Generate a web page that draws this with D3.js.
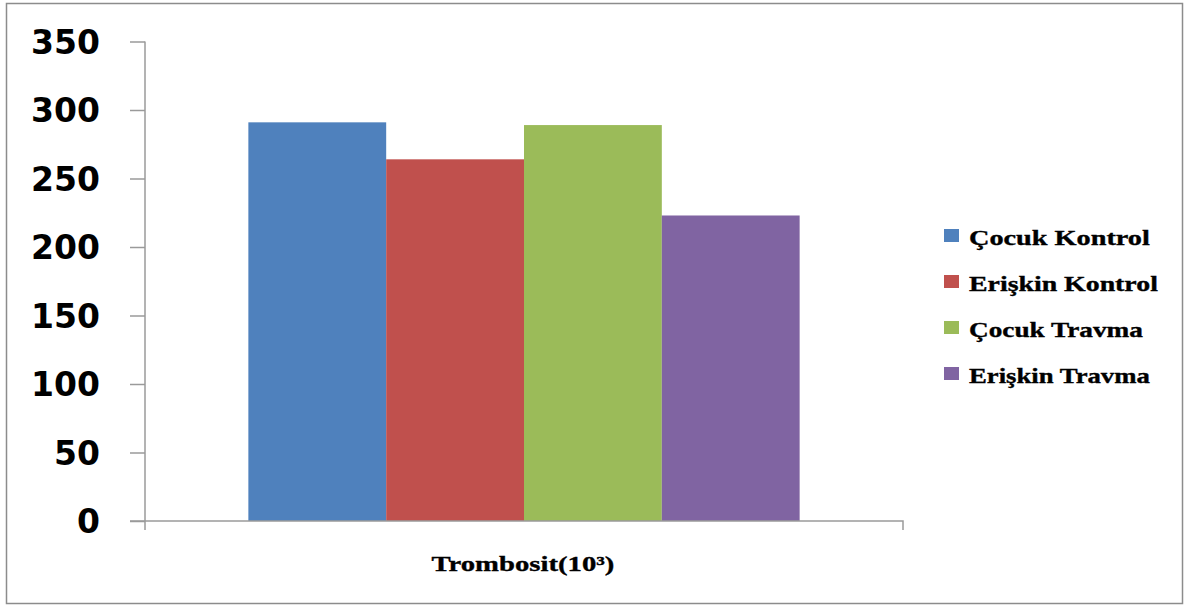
<!DOCTYPE html>
<html>
<head>
<meta charset="utf-8">
<script src="https://cdn.jsdelivr.net/npm/d3@7"></script>
<style>
  html, body { margin: 0; padding: 0; background: #fff; }
  svg { display: block; }
</style>
</head>
<body>
<svg id="chart" width="1186" height="606"></svg>
<script>
// Platelet counts (10^3) by group
const categories = ["Trombosit(10³)"];
const seriesNames = ["Çocuk Kontrol", "Erişkin Kontrol", "Çocuk Travma", "Erişkin Travma"];
const seriesValues = [291, 264, 289, 223];
const seriesColors = ["#4F81BD", "#C0504D", "#9BBB59", "#8064A2"];
const yTicks = [0, 50, 100, 150, 200, 250, 300, 350];

const svg = d3.select("#chart");

// outer frame
svg.append("rect")
  .attr("x", 6.5).attr("y", 3.5)
  .attr("width", 1176).attr("height", 600)
  .attr("fill", "#fff")
  .attr("stroke", "#8c8c8c")
  .attr("stroke-width", 1.5);

const plot = { left: 145, right: 903, top: 41.5, bottom: 521 };

const y = d3.scaleLinear().domain([0, 350]).range([plot.bottom, plot.top]);

// category band with a gap of 150% of one bar width
const x0 = d3.scaleBand().domain(categories).range([plot.left, plot.right]).paddingInner(0).paddingOuter(0);
const groupW = x0.bandwidth() * 4 / 5.5;
const x1 = d3.scaleBand().domain(seriesNames).range([0, groupW]).padding(0);

// y axis
const yAxis = d3.axisLeft(y).tickValues(yTicks).tickSize(15).tickPadding(30).tickSizeOuter(0);
const gy = svg.append("g").attr("transform", `translate(${plot.left},0)`).call(yAxis);
gy.select(".domain").attr("stroke", "#9a9a9a").attr("stroke-width", 1.5)
  .attr("d", `M0,${plot.top}V${plot.bottom + 9}`);
gy.selectAll(".tick line").attr("stroke", "#9a9a9a").attr("stroke-width", 1.5);
gy.selectAll(".tick text")
  .attr("fill", "#000")
  .attr("font-family", "'DejaVu Sans', Verdana, sans-serif")
  .attr("font-weight", "bold")
  .attr("font-size", 33)
  .attr("dy", "0.36em");

// bars
const g = svg.append("g");
categories.forEach(cat => {
  const gx = x0(cat) + (x0.bandwidth() - groupW) / 2;
  g.selectAll("rect.bar")
    .data(seriesValues.map((v, i) => ({ v, i })))
    .join("rect")
    .attr("class", "bar")
    .attr("x", d => gx + x1(seriesNames[d.i]))
    .attr("y", d => y(d.v))
    .attr("width", x1.bandwidth())
    .attr("height", d => y(0) - y(d.v))
    .attr("fill", d => seriesColors[d.i]);
});

// x axis
const xAxis = d3.axisBottom(x0).tickSize(0).tickFormat("");
const gxAxis = svg.append("g").attr("transform", `translate(0,${plot.bottom})`).call(xAxis);
gxAxis.select(".domain").attr("stroke", "#9a9a9a").attr("stroke-width", 1.5)
  .attr("d", `M${plot.left - 15},0H${plot.right}V9`);

// widen serif text horizontally to a given width (wide, heavy set)
function stretchedText(parent, str, x, yPos, size, width, anchor) {
  const grp = parent.append("g");
  const t = grp.append("text")
    .attr("font-family", "'Liberation Serif', 'Times New Roman', serif")
    .attr("font-weight", "bold")
    .attr("font-size", size)
    .attr("stroke", "#000")
    .attr("stroke-width", 0.35)
    .text(str);
  const w = t.node().getComputedTextLength();
  const sx = width / w;
  const left = anchor === "middle" ? x - width / 2 : x;
  grp.attr("transform", `translate(${left},${yPos}) scale(${sx},1)`);
  return grp;
}

// category label
stretchedText(svg, categories[0], (plot.left + plot.right) / 2 - 1, 571, 22, 183, "middle");

// legend
const legendWidths = [181, 189, 174, 181];
const legend = svg.append("g").attr("transform", "translate(944,229)");
seriesNames.forEach((name, i) => {
  const row = legend.append("g").attr("transform", `translate(0,${i * 46})`);
  row.append("rect").attr("x", 0).attr("y", 0).attr("width", 15).attr("height", 13)
    .attr("fill", seriesColors[i]);
  stretchedText(row, name, 25, 15.5, 21, legendWidths[i], "start");
});
</script>
</body>
</html>
